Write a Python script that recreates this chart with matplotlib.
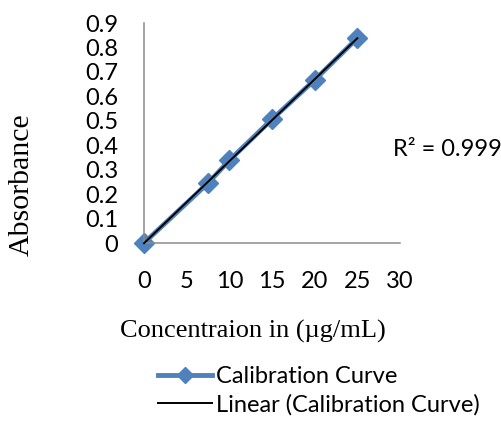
import numpy as np
import matplotlib.pyplot as plt

# calibration standards
conc = [0, 7.5, 10, 15, 20, 25]
absorbance = [0, 0.245, 0.338, 0.506, 0.667, 0.838]
r_squared = "0.999"

x_ticks = [0, 5, 10, 15, 20, 25, 30]
y_ticks = [0, 0.1, 0.2, 0.3, 0.4, 0.5, 0.6, 0.7, 0.8, 0.9]

blue = "#4F81BD"
sans = "Lato"
serif = "Liberation Serif"

fig = plt.figure(figsize=(5.02, 4.29), dpi=100)
ax = fig.add_axes([144 / 502, 1 - 243 / 429, 256 / 502, 220 / 429])

ax.plot(conc, absorbance, color=blue, lw=3.5, marker="D", ms=10.5,
        label="Calibration Curve", zorder=2)

slope, intercept = np.polyfit(conc, absorbance, 1)
fit_x = np.array([min(conc), max(conc)])
ax.plot(fit_x, slope * fit_x + intercept, color="black", lw=1.4,
        label="Linear (Calibration Curve)", zorder=3)

ax.set_xlim(0, 30)
ax.set_ylim(0, 0.9)
ax.set_xticks(x_ticks)
ax.set_yticks(y_ticks)
ax.set_xticklabels([str(v) for v in x_ticks], fontname=sans, fontsize=17)
ax.set_yticklabels([f"{v:g}" for v in y_ticks], fontname=sans, fontsize=17)
ax.tick_params(axis="y", length=0, pad=18.5)
ax.tick_params(axis="x", length=0, pad=20)

for side in ("top", "right"):
    ax.spines[side].set_visible(False)
for side in ("left", "bottom"):
    ax.spines[side].set_color("#8c8c8c")
    ax.spines[side].set_linewidth(1.1)
for line in ax.lines:
    line.set_clip_on(False)

fig.text(22 / 502, 1 - 185 / 429, "Absorbance", rotation=90, ha="center",
         va="center", fontname=serif, fontsize=21.5)
fig.text(253 / 502, 1 - 331 / 429, "Concentraion in (\u00b5g/mL)", ha="center",
         va="center", fontname=serif, fontsize=19)
fig.text(393 / 502, 1 - 150 / 429, f"R\u00b2 = {r_squared}", ha="left",
         va="center", fontname=sans, fontsize=17)

fig.legend(loc="upper left", bbox_to_anchor=(158 / 502, 1 - 366 / 429),
           frameon=False, prop={"family": sans, "size": 17},
           handlelength=2.3, handletextpad=0.17, labelspacing=0.3,
           borderpad=0, borderaxespad=0, markerscale=0.8)

fig.savefig("out.png", dpi=100)
